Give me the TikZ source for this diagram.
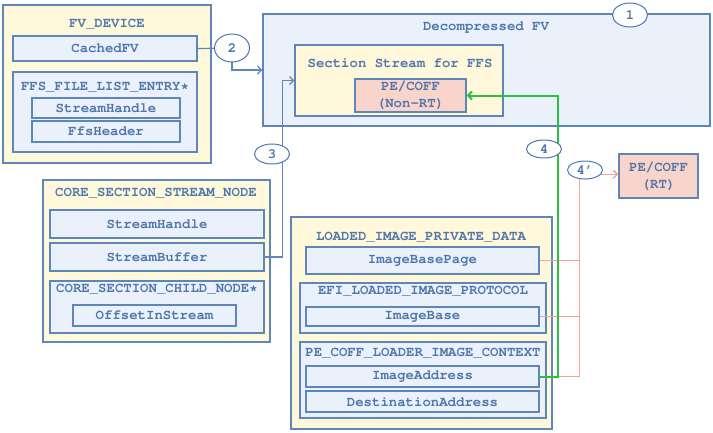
\documentclass[tikz,border=0pt]{standalone}
\usetikzlibrary{arrows.meta,shapes.geometric}
\newcommand\cour{\fontencoding{T1}\fontfamily{pcr}\fontseries{b}\selectfont}
\definecolor{edkText}{HTML}{5077AD}
\definecolor{edkLine}{HTML}{5E86B8}
\definecolor{edkYellow}{HTML}{FFF8DA}
\definecolor{edkBlue}{HTML}{EAF1FA}
\definecolor{edkPink}{HTML}{F9D4CA}
\definecolor{edkGreen}{HTML}{2CC040}
\definecolor{edkRose}{HTML}{F4A29A}

\begin{document}
\begin{tikzpicture}[x=1pt,y=-1pt,
  every node/.style={font=\cour\fontsize{14}{17}\selectfont,text=edkText},
  holder/.style={draw=edkLine,line width=1.3pt,fill=edkYellow,inner sep=0pt},
  field/.style={draw=edkLine,line width=1.3pt,fill=edkBlue,inner sep=0pt},
  image/.style={draw=edkLine,line width=1.3pt,fill=edkPink,inner sep=0pt,align=center},
  title/.style={inner sep=0pt},
  callout/.style={ellipse,draw=edkText,line width=1pt,fill=white,minimum width=35pt,inner sep=0pt},
  link/.style={draw=edkLine,line width=1.2pt},
  runtime/.style={draw=edkRose,line width=1.5pt},
  tip/.style={-{Straight Barb[length=4pt,width=8pt]}}]
  \useasboundingbox (0,0) rectangle (713,432);
  % FV device
  \node[holder,minimum width=208pt,minimum height=158pt] (fvdev) at (107,84) {};
  \node[title] (fvdevt) at (107,24) {FV\_DEVICE};
  \node[field,minimum width=184pt,minimum height=25pt] (cfv) at (105,48.5) {CachedFV};
  \node[field,minimum width=184pt,minimum height=80pt] (ffs) at (105,112) {};
  \node[title] (ffst) at (105,87) {FFS\_FILE\_LIST\_ENTRY*};
  \node[field,minimum width=148pt,minimum height=20pt] (ffssh) at (106,108) {StreamHandle};
  \node[field,minimum width=148pt,minimum height=21pt] (ffshdr) at (106,131.5) {FfsHeader};
  % decompressed FV
  \node[field,minimum width=447pt,minimum height=112pt] (dfv) at (486.5,70) {};
  \node[title] (dfvt) at (486,27) {Decompressed FV};
  \node[holder,minimum width=208pt,minimum height=71pt] (sec) at (399,80.5) {};
  \node[title] (sect) at (400,63) {Section Stream for FFS};
  \node[image,minimum width=111pt,minimum height=33pt] (nonrt) at (410.5,95.5) {PE/COFF\\(Non-RT)};
  % section stream node
  \node[holder,minimum width=227pt,minimum height=162pt] (core) at (156.5,261) {};
  \node[title] (coret) at (156,193) {CORE\_SECTION\_STREAM\_NODE};
  \node[field,minimum width=214pt,minimum height=28pt] (csh) at (157,224) {StreamHandle};
  \node[field,minimum width=214pt,minimum height=28pt] (sbuf) at (157,257) {StreamBuffer};
  \node[field,minimum width=214pt,minimum height=52pt] (child) at (157,307) {};
  \node[title] (childt) at (157,289) {CORE\_SECTION\_CHILD\_NODE*};
  \node[field,minimum width=163pt,minimum height=21pt] (ois) at (154.5,315.5) {OffsetInStream};
  % loaded image
  \node[holder,minimum width=261pt,minimum height=212pt] (lipd) at (421.5,323) {};
  \node[title] (lipdt) at (421,237) {LOADED\_IMAGE\_PRIVATE\_DATA};
  \node[field,minimum width=233pt,minimum height=27pt] (ibp) at (422.5,260.5) {ImageBasePage};
  \node[field,minimum width=246pt,minimum height=50pt] (elip) at (423,308) {};
  \node[title] (elipt) at (423,291) {EFI\_LOADED\_IMAGE\_PROTOCOL};
  \node[field,minimum width=233pt,minimum height=19pt] (ib) at (422.5,316.5) {ImageBase};
  \node[field,minimum width=246pt,minimum height=76pt] (pcl) at (423,380) {};
  \node[title] (pclt) at (423,353) {PE\_COFF\_LOADER\_IMAGE\_CONTEXT};
  \node[field,minimum width=233pt,minimum height=21pt] (ia) at (422.5,376.5) {ImageAddress};
  \node[field,minimum width=233pt,minimum height=21pt] (da) at (422.5,401.5) {DestinationAddress};
  \node[image,minimum width=79pt,minimum height=44pt] (rt) at (658.5,176) {PE/COFF\\(RT)};
  % callout spots
  \coordinate (q1) at (630,15);
  \coordinate (q2) at (232,48);
  \coordinate (q3) at (272,154);
  \coordinate (q4) at (544,149);
  \coordinate (q5) at (585,170);
  % connectors
  \draw[link] (cfv.east) -- (q2);
  \draw[link,tip] (q2) |- (dfv.west);
  \draw[link,tip] (sbuf.east) -- ++(18,0) |- (sec.west);
  \draw[runtime] (ia.east) -- ++(40,0) coordinate (p4) -- (p4 |- q5);
  \foreach \n in {ibp,ib} {
    \draw[runtime] (\n.east) -- (\n.east -| p4);
  }
  \draw[draw=edkGreen,line width=2pt,tip] (ia.east) -- ++(18,0) coordinate (g4) |- (nonrt.east);
  \foreach \n/\t/\h in {1/1/24,2/2/28,3/3/20,4/4/18,5/4'/18} {
    \node[callout,minimum height=\h pt] (c\n) at (q\n) {\t};
  }
  \draw[runtime,tip] (c5.-15) -- (c5.-15 -| rt.west);
\end{tikzpicture}
\end{document}
